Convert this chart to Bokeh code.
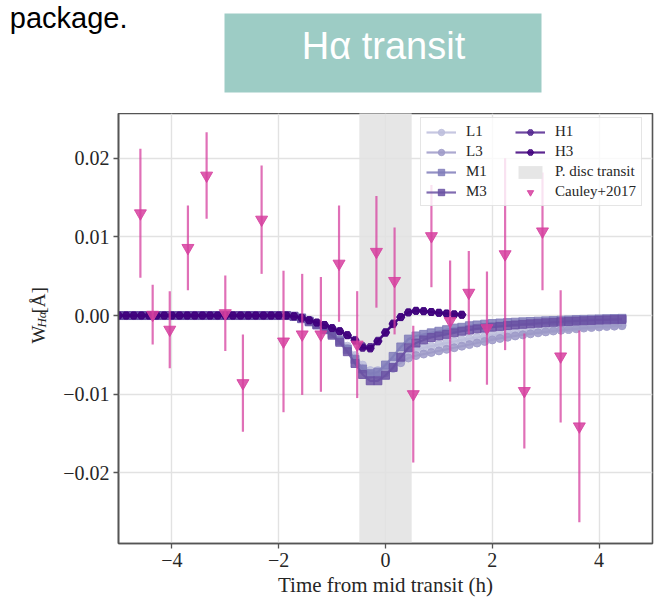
import math
from bokeh.plotting import figure
from bokeh.layouts import column, row
from bokeh.models import (Range1d, FixedTicker, CustomJSTickFormatter, Label,
                          Legend, LegendItem)
from bokeh.embed import file_html
from bokeh.resources import INLINE

# ---------------- data ----------------
time = [-5.0, -4.857, -4.714, -4.571, -4.429, -4.286, -4.143, -4.0, -3.857, -3.714,
        -3.571, -3.429, -3.286, -3.143, -3.0, -2.857, -2.714, -2.571, -2.429, -2.286,
        -2.143, -2.0, -1.857, -1.714, -1.571, -1.429, -1.286, -1.143, -1.0, -0.857,
        -0.714, -0.571, -0.429, -0.286, -0.143, 0.0, 0.143, 0.286, 0.429, 0.571,
        0.714, 0.857, 1.0, 1.143, 1.286, 1.429, 1.571, 1.714, 1.857, 2.0,
        2.143, 2.286, 2.429, 2.571, 2.714, 2.857, 3.0, 3.143, 3.286, 3.429,
        3.571, 3.714, 3.857, 4.0, 4.143, 4.286, 4.429]

ZEROS23 = [0.0] * 23

L1 = ZEROS23 + [-0.0001, -0.0003, -0.0006, -0.0010, -0.0015, -0.0021, -0.0029, -0.0039,
                -0.0051, -0.0063, -0.0070, -0.0070, -0.0066, -0.0059, -0.0052, -0.0046,
                -0.0043, -0.0041, -0.0039, -0.0037, -0.0035, -0.0033, -0.0031, -0.00295,
                -0.0028, -0.00265, -0.0025, -0.00238, -0.00226, -0.00215, -0.00205, -0.00195,
                -0.00186, -0.00178, -0.0017, -0.00162, -0.00155, -0.00148, -0.00142, -0.00136,
                -0.0013, -0.00125, -0.0012, -0.00115]
L3 = ZEROS23 + [-0.0001, -0.0003, -0.0007, -0.0011, -0.0016, -0.0023, -0.0031, -0.0042,
                -0.0055, -0.0068, -0.0075, -0.0076, -0.0073, -0.0067, -0.0060, -0.0054,
                -0.0051, -0.0049, -0.0047, -0.0045, -0.0043, -0.0041, -0.0039, -0.0037,
                -0.0035, -0.0033, -0.0031, -0.00292, -0.00276, -0.0026, -0.00246, -0.00233,
                -0.0022, -0.00208, -0.00197, -0.00187, -0.00178, -0.00169, -0.0016, -0.00153,
                -0.00146, -0.0014, -0.00135, -0.0013]
M1 = ZEROS23 + [-0.0001, -0.0003, -0.0007, -0.0011, -0.0016, -0.0023, -0.0032, -0.0043,
                -0.0056, -0.0068, -0.0074, -0.0072, -0.0063, -0.0052, -0.0040, -0.0030,
                -0.0026, -0.0024, -0.0022, -0.0020, -0.0018, -0.0016, -0.0015, -0.0013,
                -0.0012, -0.0011, -0.00102, -0.00095, -0.0009, -0.00085, -0.0008, -0.00076,
                -0.00072, -0.00068, -0.00064, -0.0006, -0.00056, -0.00052, -0.00049, -0.00046,
                -0.00043, -0.0004, -0.00038, -0.00036]
M3 = ZEROS23 + [-0.0001, -0.0004, -0.0008, -0.0012, -0.0018, -0.0025, -0.0034, -0.0046,
                -0.0061, -0.0075, -0.0083, -0.0083, -0.0076, -0.0066, -0.0053, -0.0041,
                -0.0035, -0.0031, -0.0028, -0.0026, -0.0024, -0.0022, -0.0020, -0.00185,
                -0.0017, -0.0016, -0.00148, -0.00138, -0.00128, -0.0012, -0.00112, -0.00105,
                -0.00098, -0.00092, -0.00086, -0.0008, -0.00075, -0.0007, -0.00066, -0.00062,
                -0.00058, -0.00055, -0.00052, -0.0005]
H1 = ZEROS23 + [-0.0001, -0.0003, -0.0006, -0.0009, -0.0012, -0.0016, -0.0020, -0.0025,
                -0.0031, -0.0039, -0.0040, -0.0032, -0.0021, -0.0010, -0.0002, 0.0004,
                0.0006, 0.00055, 0.00045, 0.00035, 0.00025, 0.00015, 0.0001]
H3 = ZEROS23 + [-0.0001, -0.0003, -0.0006, -0.0009, -0.0012, -0.0016, -0.0020, -0.0025,
                -0.0032, -0.0041, -0.0042, -0.0033, -0.0022, -0.0011, -0.0002, 0.0004,
                0.0006, 0.00055, 0.00045, 0.00035, 0.00025, 0.00015, 0.0001]

cauley_t = [-4.59, -4.36, -4.04, -3.70, -3.35, -3.00, -2.67, -2.32, -1.91, -1.56,
            -1.21, -0.87, -0.53, -0.17, 0.17, 0.52, 0.86, 1.21, 1.56, 1.90,
            2.24, 2.60, 2.94, 3.28, 3.63]
cauley_w = [0.0130, 0.0001, -0.0018, 0.0086, 0.0178, 0.0003, -0.0086, 0.0122, -0.0033, -0.0024,
            -0.0024, 0.0066, -0.0037, 0.0081, 0.0044, -0.0100, 0.0101, -0.0007, 0.0029, -0.0016,
            0.0078, -0.0096, 0.0107, -0.0052, -0.0141]
cauley_err = [0.0082, 0.0038, 0.0049, 0.0054, 0.0055, 0.0048, 0.0062, 0.0069, 0.0090, 0.0077,
              0.0073, 0.0074, 0.0068, 0.0071, 0.0068, 0.0087, 0.0065, 0.0077, 0.0053, 0.0072,
              0.0122, 0.0073, 0.0075, 0.0084, 0.0122]

transit_start, transit_end = -0.49, 0.49
x_ticks = [-4, -2, 0, 2, 4]
y_ticks = [-0.02, -0.01, 0.0, 0.01, 0.02]

# ---------------- styles ----------------
W, H = 655, 599
HEAD_H = 113           # header band height (slide title area)
YL_W = 60              # strip holding the y-axis label
MAIN_W, MAIN_H = W - YL_W, H - HEAD_H
BL, BR, BB = 117 - YL_W, 3, 55
SERIF = "Liberation Serif"
SANS = "Liberation Sans"
TXT = "#262626"
PINK = "#d6409f"


def blank(width, height):
    f = figure(width=width, height=height, x_range=Range1d(0, width), y_range=Range1d(height, 0),
               output_backend="svg", toolbar_location=None, min_border=0)
    f.axis.visible = False
    f.grid.visible = False
    f.outline_line_color = None
    f.background_fill_color = "white"
    f.border_fill_color = "white"
    return f


# ---------------- header: slide text and title box ----------------
head = blank(W, HEAD_H)
head.quad(left=[224], right=[541], top=[13], bottom=[92], fill_color="#9dccc5", line_color=None)
head.add_layout(Label(x=383, y=45, text="H\u03b1 transit", text_font=SANS, text_font_size="38px",
                      text_color="white", text_align="center", text_baseline="alphabetic"))
head.add_layout(Label(x=127, y=17, text="package.", text_font=SANS, text_font_size="29px",
                      text_color="black", text_align="right", text_baseline="alphabetic"))

# ---------------- y label strip ----------------
ylab = blank(YL_W, MAIN_H)
ybase = 373 - HEAD_H
xb = 38
ylab.add_layout(Label(x=xb, y=ybase, angle=math.pi / 2, text="W", text_font=SERIF,
                      text_font_size="19px", text_color=TXT, text_align="left",
                      text_baseline="alphabetic"))
ylab.add_layout(Label(x=xb + 3, y=ybase - 18, angle=math.pi / 2, text="H\u03b1", text_font=SERIF,
                      text_font_size="13px", text_font_style="italic", text_color=TXT,
                      text_align="left", text_baseline="alphabetic"))
ylab.add_layout(Label(x=xb, y=ybase - 34, angle=math.pi / 2, text="[\u00c5]", text_font=SERIF,
                      text_font_size="19px", text_color=TXT, text_align="left",
                      text_baseline="alphabetic"))

# ---------------- main plot ----------------
p = figure(width=MAIN_W, height=MAIN_H, x_range=Range1d(-5, 5), y_range=Range1d(-0.0290, 0.0257),
           output_backend="svg", toolbar_location=None,
           min_border_left=BL, min_border_right=BR, min_border_top=0, min_border_bottom=BB)
p.background_fill_color = "white"
p.border_fill_color = "white"
p.outline_line_color = "#555555"
p.outline_line_width = 1.6

p.xaxis.ticker = FixedTicker(ticks=x_ticks)
p.yaxis.ticker = FixedTicker(ticks=y_ticks)
p.xaxis.formatter = CustomJSTickFormatter(code="return (tick<0?'\u2212':'') + Math.abs(tick).toFixed(0);")
p.yaxis.formatter = CustomJSTickFormatter(code="return (tick<-1e-9?'\u2212':'') + Math.abs(tick).toFixed(2);")
for ax in (p.xaxis[0], p.yaxis[0]):
    ax.axis_line_color = "#555555"
    ax.axis_line_width = 1.6
    ax.major_tick_line_color = "#555555"
    ax.major_tick_line_width = 1.3
    ax.major_tick_out = 5
    ax.major_tick_in = 0
    ax.minor_tick_line_color = None
    ax.major_label_text_font = SERIF
    ax.major_label_text_font_size = "20px"
    ax.major_label_text_color = TXT
    ax.major_label_standoff = 4
p.xaxis.axis_label = "Time from mid transit (h)"
p.xaxis.axis_label_text_font = SERIF
p.xaxis.axis_label_text_font_size = "21px"
p.xaxis.axis_label_text_font_style = "normal"
p.xaxis.axis_label_text_color = TXT
p.xaxis.axis_label_standoff = 3

p.grid.grid_line_color = "#e2e2e2"
p.grid.grid_line_width = 1.4

band = p.quad(left=[transit_start], right=[transit_end], bottom=[-1], top=[1],
              fill_color="#e6e6e6", line_color=None, level="image")


def model(t, y, color, marker, size):
    ln = p.line(t, y, line_color=color, line_width=2.2, line_alpha=0.85)
    sc = p.scatter(t, y, marker=marker, size=size, fill_color=color, line_color=color,
                   fill_alpha=0.85, line_alpha=0.85)
    return [ln, sc]


rL1 = model(time, L1, "#bcbddc", "circle", 8)
rL3 = model(time, L3, "#9e9ac8", "circle", 8)
rM1 = model(time, M1, "#807dba", "square", 8)
rM3 = model(time, M3, "#6a51a3", "square", 8)
rH1 = model(time[:len(H1)], H1, "#54278f", "hex", 8)
rH3 = model(time[:len(H3)], H3, "#3f007d", "hex", 8)

y_lo = [w - e for w, e in zip(cauley_w, cauley_err)]
y_hi = [w + e for w, e in zip(cauley_w, cauley_err)]
p.segment(x0=cauley_t, y0=y_lo, x1=cauley_t, y1=y_hi, line_color=PINK, line_width=2.2, line_alpha=0.75)
rC = p.scatter(cauley_t, cauley_w, marker="inverted_triangle", size=12,
               fill_color=PINK, line_color=PINK, fill_alpha=0.85, line_alpha=0.85)

legend = Legend(items=[
    LegendItem(label="L1", renderers=rL1), LegendItem(label="L3", renderers=rL3),
    LegendItem(label="M1", renderers=rM1), LegendItem(label="M3", renderers=rM3),
    LegendItem(label="H1", renderers=rH1), LegendItem(label="H3", renderers=rH3),
    LegendItem(label="P. disc transit", renderers=[band]),
    LegendItem(label="Cauley+2017", renderers=[rC]),
], nrows=4, location=(302, 337))
legend.label_text_font = SERIF
legend.label_text_font_size = "15px"
legend.label_text_color = TXT
legend.glyph_width = 30
legend.glyph_height = 16
legend.label_height = 16
legend.label_width = 46
legend.label_standoff = 10
legend.spacing = 3
legend.padding = 5
legend.margin = 0
legend.background_fill_alpha = 0.8
legend.border_line_color = "#cccccc"
legend.border_line_width = 1
p.add_layout(legend)

layout = column(head, row(ylab, p, spacing=0), spacing=0)
open("out.html", "w").write(file_html(layout, INLINE))
